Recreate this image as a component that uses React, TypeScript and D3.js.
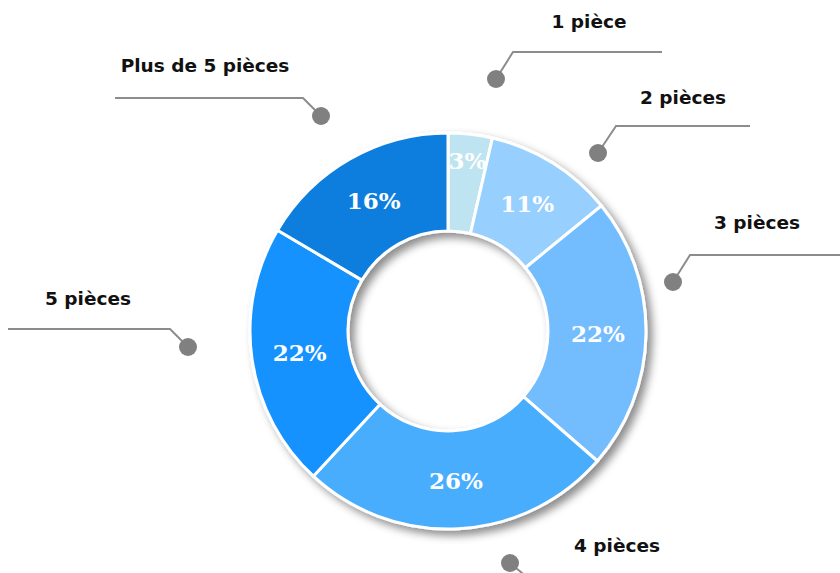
import React from "react";
import * as d3 from "d3";

const categories = ["1 pièce", "2 pièces", "3 pièces", "4 pièces", "5 pièces", "Plus de 5 pièces"];
const values = [3.6, 10.5, 22.3, 25.5, 21.6, 16.5];
const pctLabels = ["3%", "11%", "22%", "26%", "22%", "16%"];
const colors = ["#BDE4F0", "#97CFFE", "#73BDFE", "#4AADFE", "#1492FE", "#0A7EDE"];

// annotation layout: dot, elbow, line end, text anchor
const callouts = [
  { dot: [496, 79], elbow: [513, 52], end: [662, 52], text: [589, 21] },
  { dot: [598, 153], elbow: [616, 126], end: [750, 126], text: [683, 97] },
  { dot: [673, 282], elbow: [690, 255], end: [840, 255], text: [757, 222] },
  { dot: [510, 563], elbow: [528, 578], end: [700, 578], text: [617, 545] },
  { dot: [188, 347], elbow: [170, 329], end: [8, 329], text: [88, 298] },
  { dot: [321, 116], elbow: [303, 98], end: [115, 98], text: [205, 65] },
];

const W = 840, H = 573;
const cx = 448, cy = 331, rOuter = 198, rInner = 100;

export default function App() {
  const pie = d3.pie<number>().sort(null).value((d) => d)(values);
  const arc = d3.arc<d3.PieArcDatum<number>>().innerRadius(rInner).outerRadius(rOuter);
  const labelArc = d3.arc<d3.PieArcDatum<number>>().innerRadius(150).outerRadius(150);
  const smallArc = d3.arc<d3.PieArcDatum<number>>().innerRadius(172).outerRadius(172);
  return (
    <div style={{ position: "fixed", left: 0, top: 0, width: W, height: H, background: "#fff" }}>
      <svg width={W} height={H} style={{ display: "block" }}>
        <defs>
          <filter id="sh" x="-20%" y="-20%" width="140%" height="140%">
            <feDropShadow dx="5" dy="5" stdDeviation="4" floodColor="#000" floodOpacity="0.45" />
          </filter>
        </defs>
        {callouts.map((c, i) => (
          <g key={"c" + i}>
            <polyline
              points={`${c.dot[0]},${c.dot[1]} ${c.elbow[0]},${c.elbow[1]} ${c.end[0]},${c.end[1]}`}
              fill="none"
              stroke="#8C8C8C"
              strokeWidth={2}
            />
            <circle cx={c.dot[0]} cy={c.dot[1]} r={9} fill="#808080" />
            <text
              x={c.text[0]}
              y={c.text[1]}
              textAnchor="middle"
              dominantBaseline="central"
              fontFamily="'DejaVu Sans', sans-serif"
              fontWeight="bold"
              fontSize={18.5}
              fill="#111"
            >
              {categories[i]}
            </text>
          </g>
        ))}
        <g transform={`translate(${cx},${cy})`}>
          <g filter="url(#sh)">
            {pie.map((p, i) => (
              <path key={"s" + i} d={arc(p) || ""} fill={colors[i]} stroke="#fff" strokeWidth={3} />
            ))}
          </g>
          {pie.map((p, i) => {
            const [x, y] = (values[i] < 5 ? smallArc : labelArc).centroid(p);
            return (
              <text
                key={"l" + i}
                x={x}
                y={y}
                textAnchor="middle"
                dominantBaseline="central"
                fontFamily="'DejaVu Serif', serif"
                fontWeight="bold"
                fontSize={23}
                fill="#fff"
              >
                {pctLabels[i]}
              </text>
            );
          })}
        </g>
      </svg>
    </div>
  );
}
